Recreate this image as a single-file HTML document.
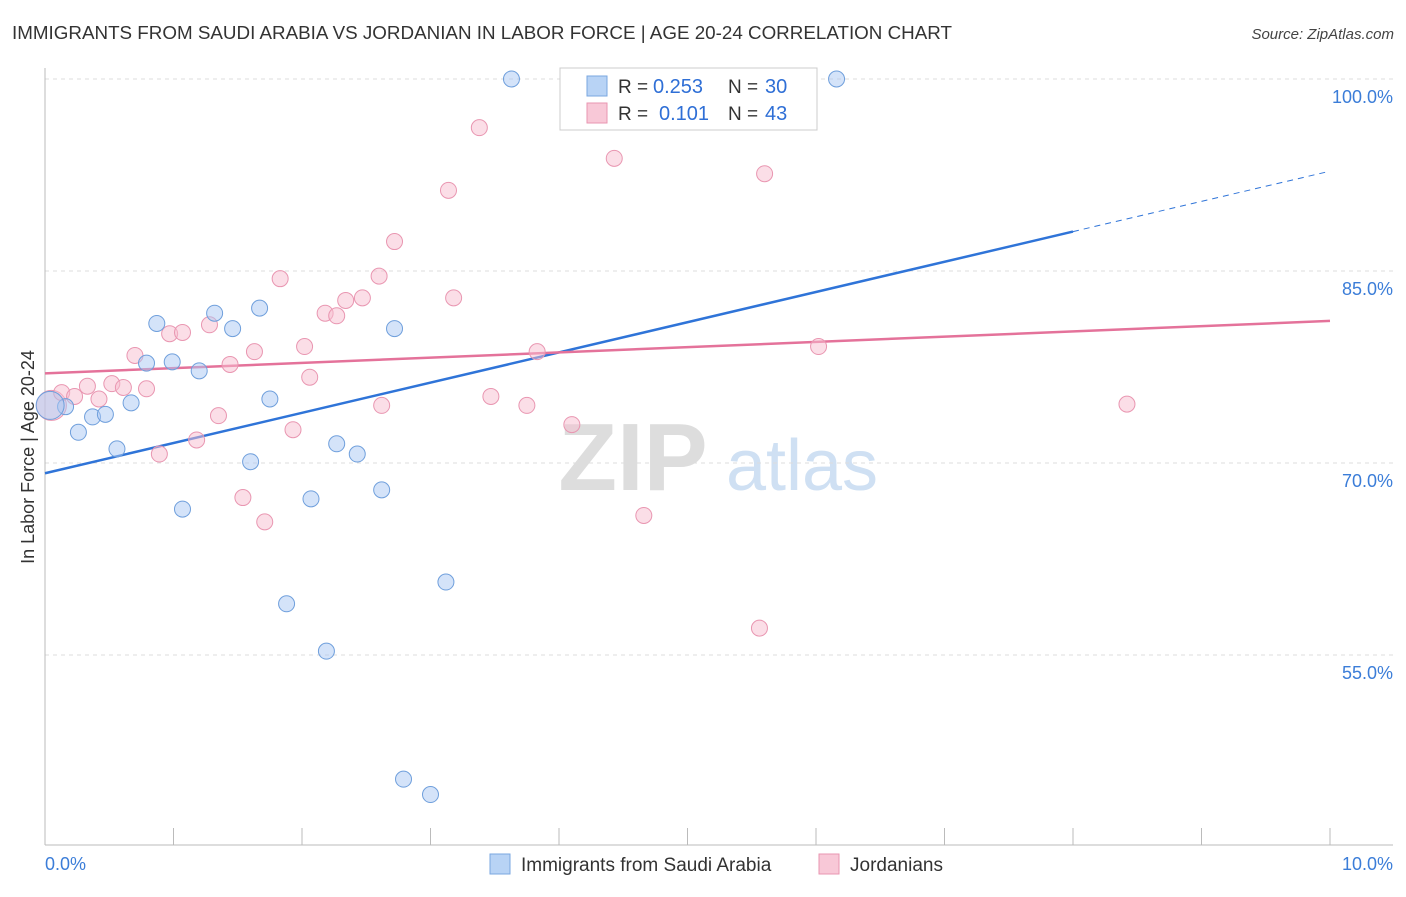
<!DOCTYPE html>
<html><head><meta charset="utf-8">
<style>
body{margin:0;background:#fff;font-family:"Liberation Sans",sans-serif;}
svg text{font-family:"Liberation Sans",sans-serif;}
</style></head>
<body>
<svg id="chart" width="1406" height="892" xmlns="http://www.w3.org/2000/svg">
<text x="12" y="39" font-size="18" fill="#333" textLength="940" lengthAdjust="spacingAndGlyphs">IMMIGRANTS FROM SAUDI ARABIA VS JORDANIAN IN LABOR FORCE | AGE 20-24 CORRELATION CHART</text>
<text x="1394" y="39" font-size="15" fill="#444" font-style="italic" text-anchor="end">Source: ZipAtlas.com</text>
<g>
<text x="633" y="490" font-size="96" fill="#ddd" text-anchor="middle" font-family="Liberation Serif" font-weight="bold">ZIP</text>
<text x="802" y="490" font-size="72" fill="#cfe0f3" text-anchor="middle">atlas</text>
</g>
<g id="grid"></g>
<g id="axes"></g>
<g id="lines"></g>
<g id="points"></g>
<text transform="translate(34,457) rotate(-90)" font-size="18" fill="#333" text-anchor="middle">In Labor Force | Age 20-24</text>
<text x="45" y="870" font-size="18" fill="#3b7dd8">0.0%</text>
<text x="1393" y="870" font-size="18" fill="#3b7dd8" text-anchor="end">10.0%</text>
<g>
<rect x="560" y="68" width="257" height="62" fill="#fff" stroke="#ccc"/>
<rect x="587" y="76" width="20" height="20" fill="#b8d3f5" stroke="#7aa7e0"/>
<rect x="587" y="103" width="20" height="20" fill="#f8c8d7" stroke="#e996b1"/>
<text x="618" y="93" font-size="19" fill="#333">R =</text>
<text x="653" y="93" font-size="20" fill="#2f6fd6">0.253</text>
<text x="728" y="93" font-size="19" fill="#333">N =</text>
<text x="765" y="93" font-size="20" fill="#2f6fd6">30</text>
<text x="618" y="120" font-size="19" fill="#333">R =</text>
<text x="659" y="120" font-size="20" fill="#2f6fd6">0.101</text>
<text x="728" y="120" font-size="19" fill="#333">N =</text>
<text x="765" y="120" font-size="20" fill="#2f6fd6">43</text>
</g>
<g>
<rect x="490" y="854" width="20" height="20" fill="#b8d3f5" stroke="#7aa7e0"/>
<text x="521" y="871" font-size="19" fill="#333">Immigrants from Saudi Arabia</text>
<rect x="819" y="854" width="20" height="20" fill="#f8c8d7" stroke="#e996b1"/>
<text x="850" y="871" font-size="19" fill="#333">Jordanians</text>
</g>
</svg>
<script>
const yTicks=[100,85,70,55];
const yTickLabels=["100.0%","85.0%","70.0%","55.0%"];
const blueX=[3.63,6.16,0.16,0.26,0.37,0.47,0.56,0.67,0.79,0.87,0.99,1.07,1.20,1.32,1.46,1.60,1.67,1.75,1.88,2.07,2.19,2.27,2.43,2.62,2.72,2.79,3.00,3.12,0.04];
const blueY=[100,100,74.4,72.4,73.6,73.8,71.1,74.7,77.8,80.9,77.9,66.4,77.2,81.7,80.5,70.1,82.1,75.0,59.0,67.2,55.3,71.5,70.7,67.9,80.5,45.3,44.1,60.7,74.5];
const pinkX=[0.05,0.13,0.23,0.33,0.42,0.52,0.61,0.70,0.79,0.89,0.97,1.07,1.18,1.28,1.35,1.44,1.54,1.63,1.71,1.83,1.93,2.02,2.06,2.18,2.27,2.34,2.47,2.60,2.62,2.72,3.14,3.18,3.38,3.47,3.75,3.83,4.10,4.43,4.66,5.56,5.60,6.02,8.42];
const pinkY=[74.5,75.5,75.2,76.0,75.0,76.2,75.9,78.4,75.8,70.7,80.1,80.2,71.8,80.8,73.7,77.7,67.3,78.7,65.4,84.4,72.6,79.1,76.7,81.7,81.5,82.7,82.9,84.6,74.5,87.3,91.3,82.9,96.2,75.2,74.5,78.7,73.0,93.8,65.9,57.1,92.6,79.1,74.6];
const blueTrend=[69.2,92.8];
const pinkTrend=[77.0,81.1];
const NS="http://www.w3.org/2000/svg";
const sx=v=>45+v*128.5;
const sy=v=>79+(100-v)*12.8;
function mk(tag,attrs,parent){const e=document.createElementNS(NS,tag);for(const k in attrs)e.setAttribute(k,attrs[k]);document.getElementById(parent).appendChild(e);return e;}
yTicks.forEach((t,i)=>{
 let l=mk('line',{x1:45,x2:1393,y1:sy(t),y2:sy(t),stroke:'#ddd','stroke-dasharray':'4,4'},'grid');
 
 
 let tx=mk('text',{x:1393,y:sy(t)+24,'font-size':18,fill:'#3b7dd8','text-anchor':'end'},'grid');
 tx.textContent=yTickLabels[i];
 
 
});
let ax=mk('line',{x1:45,x2:45,y1:68,y2:845,stroke:'#bbb'},'axes');


let bx=mk('line',{x1:45,x2:1393,y1:845,y2:845,stroke:'#bbb'},'axes');


for(let i=0;i<=10;i++){
 let t=mk('line',{x1:sx(i),x2:sx(i),y1:828,y2:845,stroke:'#bbb'},'axes');
 
 
}
let bEnd=8.0, bMid=blueTrend[0]+(blueTrend[1]-blueTrend[0])*bEnd/10;
let b1=mk('line',{x1:sx(0),y1:sy(blueTrend[0]),x2:sx(bEnd),y2:sy(bMid),stroke:'#2f74d8','stroke-width':2.5},'lines');


let b2=mk('line',{x1:sx(bEnd),y1:sy(bMid),x2:sx(10),y2:sy(blueTrend[1]),stroke:'#2f74d8','stroke-width':1,'stroke-dasharray':'6,5'},'lines');


let p1=mk('line',{x1:sx(0),y1:sy(pinkTrend[0]),x2:sx(10),y2:sy(pinkTrend[1]),stroke:'#e4729a','stroke-width':2.5},'lines');


pinkX.forEach((x,i)=>{
 let c=mk('circle',{cx:sx(x),cy:sy(pinkY[i]),r:i===0?15:8,fill:'rgba(248,190,208,0.5)',stroke:'#e996b1','stroke-width':1},'points');
 
 
});
blueX.forEach((x,i)=>{
 let c=mk('circle',{cx:sx(x),cy:sy(blueY[i]),r:i===blueX.length-1?14:8,fill:'rgba(170,200,243,0.5)',stroke:'#6f9fdc','stroke-width':1},'points');
 
 
});
</script>
</body></html>
